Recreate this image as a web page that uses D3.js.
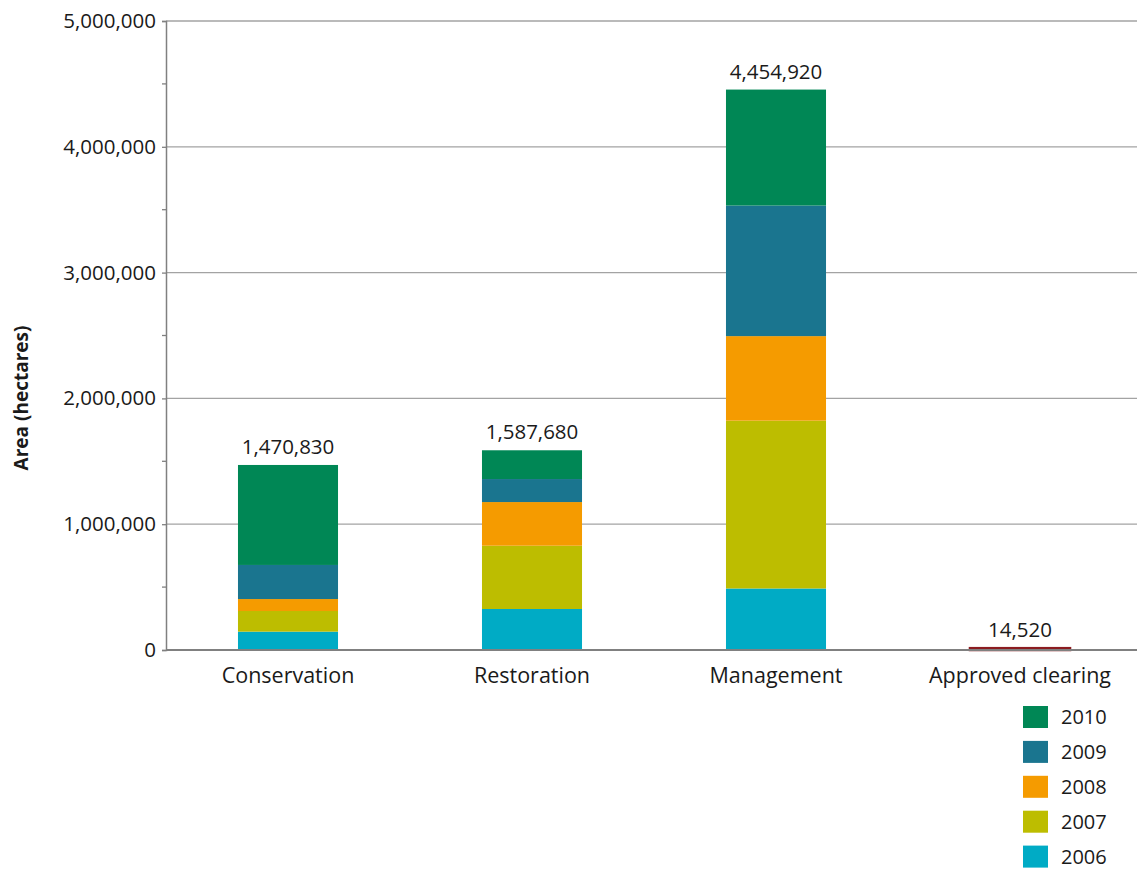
<!DOCTYPE html>
<html>
<head>
<meta charset="utf-8">
<script src="https://cdn.jsdelivr.net/npm/d3@7"></script>
<style>
  body { margin: 0; background: #fff; }
  text { font-family: "Open Sans", "Noto Sans", sans-serif; fill: #1a1a1a; }
</style>
</head>
<body>
<div id="chart"></div>
<script>
var categories = ['Conservation', 'Restoration', 'Management', 'Approved clearing'];
var years = ['2006', '2007', '2008', '2009', '2010'];
var values2006 = [146000, 326000, 489000, 0];
var values2007 = [164000, 503000, 1334000, 0];
var values2008 = [95000, 347000, 672000, 0];
var values2009 = [271000, 183000, 1038000, 0];
var values2010 = [794830, 228680, 921920, 0];
var clearingValues = [0, 0, 0, 14520];
var totals = [1470830, 1587680, 4454920, 14520];
var yTicks = [0, 1000000, 2000000, 3000000, 4000000, 5000000];
var yMinorTicks = [500000, 1500000, 2500000, 3500000, 4500000];
var yearColors = ['#00abc5', '#bdbd00', '#f59b00', '#1a758f', '#008755'];
var clearingColor = '#8b1c20';

var width = 1137, height = 871;
var margin = { top: 21, left: 166, bottom: 221 };

var svg = d3.select('#chart').append('svg')
  .attr('width', width)
  .attr('height', height);

var x = d3.scaleBand()
  .domain(categories)
  .range([margin.left, 1142])
  .paddingInner(0.59)
  .paddingOuter(0.295);

var y = d3.scaleLinear()
  .domain([0, 5000000])
  .range([height - margin.bottom, margin.top]);

var fmt = d3.format(',');

// gridlines
svg.append('g')
  .selectAll('line')
  .data(yTicks.slice(1))
  .enter()
  .append('line')
  .attr('x1', margin.left)
  .attr('x2', width)
  .attr('y1', function(d) { return y(d); })
  .attr('y2', function(d) { return y(d); })
  .attr('stroke', '#a3a3a3')
  .attr('stroke-width', 1.3);

// stacked bars
var rows = categories.map(function(c, i) {
  return { cat: c, '2006': values2006[i], '2007': values2007[i], '2008': values2008[i], '2009': values2009[i], '2010': values2010[i] };
});
var stack = d3.stack().keys(years)(rows);

svg.append('g')
  .selectAll('g')
  .data(stack)
  .enter()
  .append('g')
  .attr('fill', function(d, i) { return yearColors[i]; })
  .selectAll('rect')
  .data(function(d) { return d; })
  .enter()
  .append('rect')
  .attr('x', function(d) { return x(d.data.cat); })
  .attr('width', x.bandwidth())
  .attr('y', function(d) { return y(d[1]); })
  .attr('height', function(d) { return y(d[0]) - y(d[1]); });

// approved clearing bar
svg.append('g')
  .selectAll('rect')
  .data(categories.map(function(c, i) { return { cat: c, v: clearingValues[i] }; }).filter(function(d) { return d.v > 0; }))
  .enter()
  .append('rect')
  .attr('x', function(d) { return x(d.cat); })
  .attr('width', x.bandwidth())
  .attr('y', function(d) { return y(d.v); })
  .attr('height', function(d) { return y(0) - y(d.v); })
  .attr('fill', clearingColor)
  .attr('stroke', clearingColor)
  .attr('stroke-width', 2.5);

// total labels
svg.append('g')
  .selectAll('text')
  .data(totals)
  .enter()
  .append('text')
  .attr('x', function(d, i) { return x(categories[i]) + x.bandwidth() / 2; })
  .attr('y', function(d) { return y(d) - 11; })
  .attr('text-anchor', 'middle')
  .style('font-size', '20.5px')
  .text(function(d) { return fmt(d); });

// y axis
var yAxis = svg.append('g')
  .attr('transform', 'translate(' + margin.left + ',0)')
  .call(d3.axisLeft(y).tickValues(yTicks).tickSize(4).tickPadding(6).tickFormat(fmt));
yAxis.select('.domain').attr('stroke', '#808080').attr('stroke-width', 1.5);
yAxis.selectAll('.tick line').attr('stroke', '#808080').attr('stroke-width', 1.3);
yAxis.selectAll('.tick text').style('font-size', '20.5px').attr('fill', '#1a1a1a').attr('font-family', null);

svg.append('g')
  .selectAll('line')
  .data(yMinorTicks)
  .enter()
  .append('line')
  .attr('x1', margin.left - 4)
  .attr('x2', margin.left)
  .attr('y1', function(d) { return y(d); })
  .attr('y2', function(d) { return y(d); })
  .attr('stroke', '#808080')
  .attr('stroke-width', 1.3);

// x axis line
svg.append('line')
  .attr('x1', margin.left)
  .attr('x2', width)
  .attr('y1', y(0))
  .attr('y2', y(0))
  .attr('stroke', '#808080')
  .attr('stroke-width', 2);

// category labels
svg.append('g')
  .selectAll('text')
  .data(categories)
  .enter()
  .append('text')
  .attr('x', function(d) { return x(d) + x.bandwidth() / 2; })
  .attr('y', y(0) + 33)
  .attr('text-anchor', 'middle')
  .style('font-size', '21.5px')
  .text(function(d) { return d; });

// y title
svg.append('text')
  .attr('transform', 'translate(28,398) rotate(-90)')
  .attr('text-anchor', 'middle')
  .style('font-size', '19px')
  .style('font-weight', 'bold')
  .text('Area (hectares)');

// legend
var legendYears = years.slice().reverse();
var legendColors = yearColors.slice().reverse();
var legend = svg.append('g')
  .attr('transform', 'translate(1023,706)')
  .selectAll('g')
  .data(legendYears)
  .enter()
  .append('g')
  .attr('transform', function(d, i) { return 'translate(0,' + (i * 34.9) + ')'; });

legend.append('rect')
  .attr('width', 25)
  .attr('height', 22)
  .attr('fill', function(d, i) { return legendColors[i]; });

legend.append('text')
  .attr('x', 38)
  .attr('y', 18)
  .style('font-size', '20px')
  .text(function(d) { return d; });
</script>
</body>
</html>
